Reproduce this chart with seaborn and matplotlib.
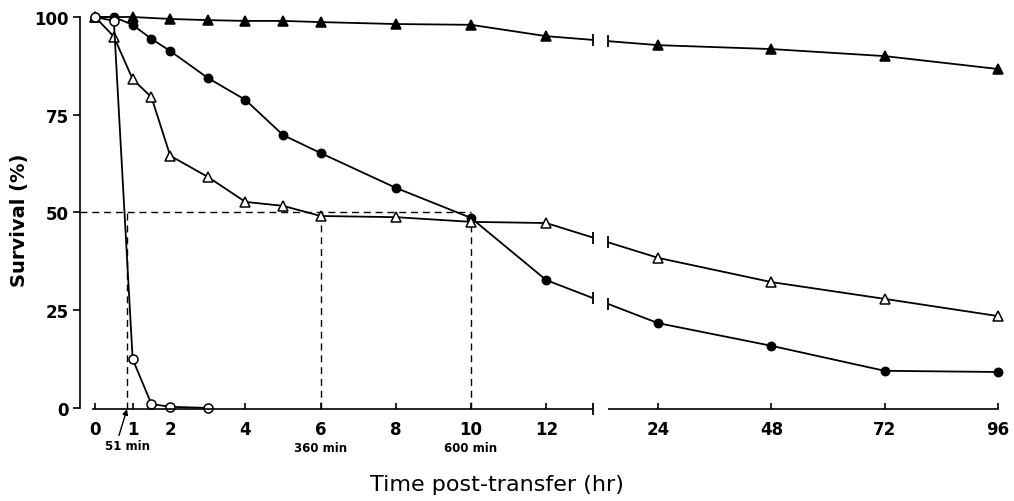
import numpy as np
import seaborn as sns
import matplotlib.pyplot as plt

# survival (%), time in hours
hours_a = [0, 1, 2, 3, 4, 5, 6, 8, 10, 12, 24, 48, 72, 96]
surv_filled_tri = [100, 100, 99.5, 99.2, 99, 99, 98.7, 98.2, 98, 95.1, 92.8, 91.8, 90, 86.7]

hours_b = [0, 0.5, 1, 1.5, 2, 3, 4, 5, 6, 8, 10, 12, 24, 48, 72, 96]
surv_filled_circ = [100, 100, 98, 94.4, 91.3, 84.4, 78.8, 69.8, 65.2, 56.3, 48.6, 32.7, 21.7, 15.9, 9.5, 9.2]
surv_open_tri = [100, 95, 84.1, 79.5, 64.5, 59.1, 52.7, 51.7, 49.1, 48.8, 47.6, 47.3, 38.4, 32.2, 27.9, 23.5]

hours_c = [0, 0.5, 1, 1.5, 2, 3]
surv_open_circ = [100, 99, 12.5, 1, 0.3, 0]

tick_hours = [0, 1, 2, 4, 6, 8, 10, 12, 24, 48, 72, 96]
half_times = [51 / 60, 6, 10]
half_labels = ['51 min', '360 min', '600 min']

# broken time axis: linear up to ~13 h, compressed after the break
GAP = (13.25, 13.4)
H_KNOTS = [-10, GAP[0], GAP[1], 200]
U_KNOTS = [-10, GAP[0], 13.64, 13.64 + (200 - GAP[1]) * 0.1256]

def fwd(h):
    return np.interp(h, H_KNOTS, U_KNOTS)

def inv(u):
    return np.interp(u, U_KNOTS, H_KNOTS)

sns.set_style('ticks')
plt.rcParams['font.family'] = ['DejaVu Sans']
for k in ['text.color', 'axes.labelcolor', 'xtick.color', 'ytick.color', 'axes.edgecolor']:
    plt.rcParams[k] = 'black'

fig = plt.figure(figsize=(10.14, 5.02), dpi=100)
ax = fig.add_axes([80 / 1014, 0.1542, 928 / 1014, 0.8333])

series = [
    (hours_a, surv_filled_tri, '^', 'black', 7.5),
    (hours_b, surv_filled_circ, 'o', 'black', 6),
    (hours_b, surv_open_tri, '^', 'white', 7.5),
    (hours_c, surv_open_circ, 'o', 'white', 6.5),
]
for i, (h, s, m, fc, ms) in enumerate(series):
    sns.lineplot(x=h, y=s, ax=ax, color='black', lw=1.3, marker=m, ms=ms,
                 mfc=fc, mec='black', mew=1.1, zorder=2 + i * 0.1)

# dashed guides for the 50 % times
ax.plot([-0.4, 10], [50, 50], ls=(0, (5, 3.5)), lw=1, color='black', zorder=1)
for t in half_times:
    ax.plot([t, t], [-0.3, 50], ls=(0, (5, 3.5)), lw=1, color='black', zorder=1)

ax.set_xscale('function', functions=(fwd, inv))
ax.set_xlim(-0.4, inv(24.28))
ax.set_ylim(-4, 103)

# the break
ax.axvspan(GAP[0], GAP[1], color='white', zorder=3, lw=0)
for h, s, m, fc, ms in series:
    if max(h) < GAP[1]:
        continue
    u = fwd(np.array(h, dtype=float))
    for edge in GAP:
        yb = np.interp(fwd(edge), u, s)
        ax.plot([edge], [yb], marker='|', ms=9, mew=1.3, color='black', zorder=4)
ax.plot([GAP[0]], [-0.3], marker='|', ms=9, mew=1.3, color='black', zorder=4, clip_on=False)

sns.despine(ax=ax)
ax.spines['bottom'].set_position(('data', -0.3))
ax.spines['bottom'].set_bounds(-0.05, 96)
ax.spines['left'].set_bounds(0, 100)
for sp in ['left', 'bottom']:
    ax.spines[sp].set_linewidth(1.2)

ax.set_xticks(tick_hours, labels=[str(t) for t in tick_hours], fontsize=12, fontweight='bold')
ax.set_yticks([0, 25, 50, 75, 100], labels=['0', '25', '50', '75', '100'], fontsize=12, fontweight='bold')
ax.minorticks_off()
ax.tick_params(axis='x', direction='in', length=4, width=1.2, pad=8)
ax.tick_params(axis='y', direction='out', length=5, width=1.2, pad=3)
ax.set_xlabel('')
ax.set_ylabel('')

for t, lab in zip(half_times, half_labels):
    if t < 1:
        ax.annotate(lab, xy=(t, -0.3), xytext=(0, -26), textcoords='offset points',
                    ha='center', va='center', fontsize=8.5, fontweight='bold',
                    arrowprops=dict(arrowstyle='-|>', color='black', lw=1,
                                    relpos=(0.3, 1.0), shrinkA=0, shrinkB=0,
                                    mutation_scale=8))
    else:
        ax.annotate(lab, xy=(t, -0.3), xytext=(0, -27.5), textcoords='offset points',
                    ha='center', va='center', fontsize=8.5, fontweight='bold')

fig.text(20 / 1014, 1 - 220 / 502, 'Survival (%)', rotation=90, ha='center',
         va='center', fontsize=14, fontweight='bold')
fig.text(497 / 1014, 1 - 485 / 502, 'Time post-transfer (hr)', ha='center',
         va='center', fontsize=16)

fig.savefig('out.png', dpi=100)
